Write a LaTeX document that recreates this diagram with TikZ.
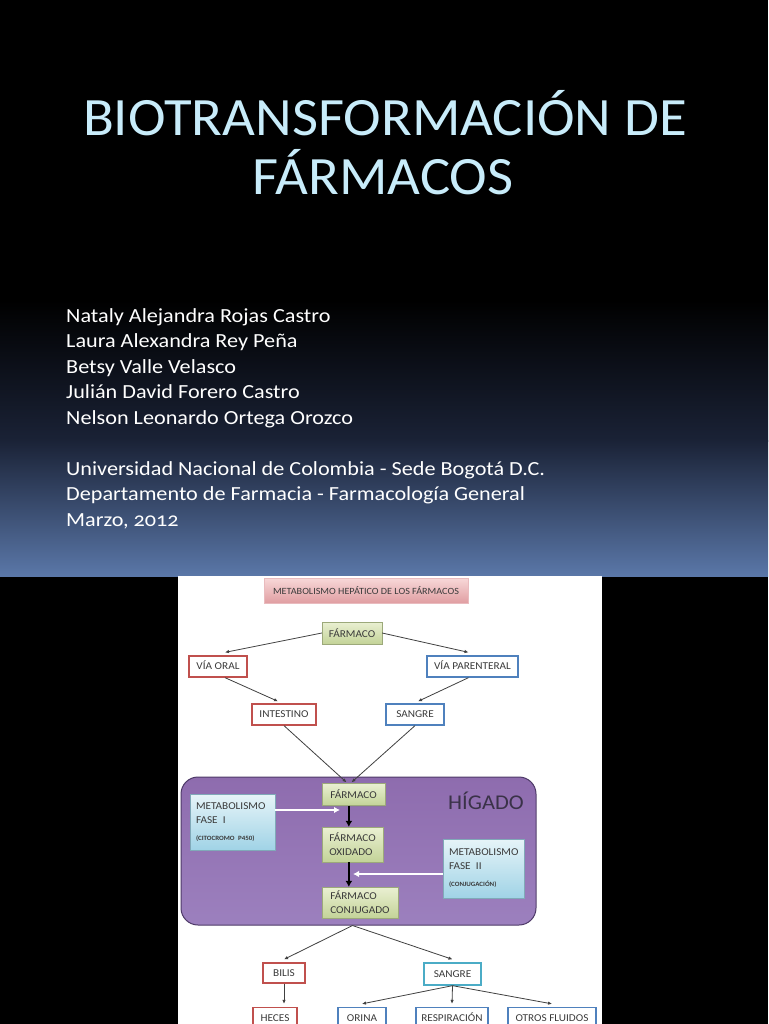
\documentclass[tikz,border=0pt]{standalone}
\usepackage{fontspec}
\setmainfont{Carlito}
\newfontfamily\titlefont[FakeStretch=1.05]{Carlito}
\newfontfamily\slidefont[Numbers=OldStyle,FakeStretch=1.11]{Carlito}
\newfontfamily\dfont[FakeStretch=1.07]{Carlito}
\usetikzlibrary{arrows.meta,shadows}
\definecolor{slmid}{HTML}{1A2236}
\definecolor{slbot}{HTML}{5A77A8}
\definecolor{titlecol}{HTML}{C8ECFA}
\definecolor{dtext}{HTML}{3A3A3A}
\definecolor{boxred}{HTML}{C0504D}
\definecolor{boxblue}{HTML}{4F81BD}
\definecolor{boxteal}{HTML}{4BACC6}
\definecolor{lineg}{HTML}{404040}
\definecolor{grtop}{HTML}{EAF0D2}
\definecolor{grbot}{HTML}{C3D398}
\definecolor{pktop}{HTML}{F8D8D8}
\definecolor{pkbot}{HTML}{E09EA2}
\definecolor{bltop}{HTML}{E6F4F8}
\definecolor{blbot}{HTML}{A0D3E6}
\definecolor{lvtop}{HTML}{8E6CAE}
\definecolor{lvmid}{HTML}{784E9C}
\definecolor{lvbot}{HTML}{9C80BE}
\definecolor{lvedge}{HTML}{4E3A68}
\definecolor{higcol}{HTML}{3A3248}
\begin{document}
\begin{tikzpicture}[x=1pt,y=-1pt,
  titletext/.style={font=\titlefont\fontsize{54}{60}\selectfont, text=titlecol, inner sep=0},
  author/.style={font=\slidefont\fontsize{20}{25}\selectfont, text=white, inner sep=0, anchor=base west},
  box/.style={draw, line width=1.3pt, fill=white, inner sep=0, font=\dfont\fontsize{10.5}{12}\selectfont, text=dtext,
     text height=7pt, text depth=1pt},
  redbox/.style={box, draw=boxred},
  bluebox/.style={box, draw=boxblue},
  tealbox/.style={box, draw=boxteal},
  greenbox/.style={inner sep=0, top color=grtop, bottom color=grbot, draw=grbot!80!black, line width=0.3pt,
     font=\dfont\fontsize{10.5}{14}\selectfont, text=dtext, align=left,
     drop shadow={opacity=0.3, shadow xshift=1pt, shadow yshift=-1pt}},
  fasebox/.style={inner xsep=6pt, inner ysep=0pt, top color=bltop, bottom color=blbot, draw=blbot!80!black, line width=0.3pt,
     font=\dfont\fontsize{10.5}{14}\selectfont, text=dtext, align=left, text width=72pt,
     drop shadow={opacity=0.3, shadow xshift=1pt, shadow yshift=-1pt}},
  conn/.style={draw=lineg, line width=0.8pt, -{Latex[length=4pt,width=3.5pt]}},
  thickarr/.style={draw=black, line width=2.4pt, -{Latex[length=6pt,width=7pt]}},
  whitearr/.style={draw=white, line width=2pt, -{Latex[length=6pt,width=6.5pt]}}
]
\useasboundingbox (0,0) rectangle (768,1024);
% slide background
\fill[black] (0,0) rectangle (768,1024);
\shade[top color=black, bottom color=slmid] (0,300) rectangle (768,441);
\shade[top color=slmid, bottom color=slbot] (0,440) rectangle (768,576);

% title
\node[titletext, anchor=base] (t1) at (385,136) {BIOTRANSFORMACIÓN DE};
\node[titletext, anchor=base] (t2) at (383,195) {FÁRMACOS};

% authors
\node[author] (a1) at (66,322) {Nataly Alejandra Rojas Castro};
\node[author] (a2) at (66,347.5) {Laura Alexandra Rey Peña};
\node[author] (a3) at (66,373) {Betsy Valle Velasco};
\node[author] (a4) at (66,398.5) {Julián David Forero Castro};
\node[author] (a5) at (66,424) {Nelson Leonardo Ortega Orozco};
\node[author] (a6) at (66,475) {Universidad Nacional de Colombia - Sede Bogotá D.C.};
\node[author] (a7) at (66,500.5) {Departamento de Farmacia - Farmacología General};
\node[author] (a8) at (66,526) {Marzo, 2012};

% diagram panel
\fill[white] (178,576) rectangle (602,1024);
\begin{scope}
\clip (178,576) rectangle (602,1024);

\node[inner sep=0, top color=pktop, bottom color=pkbot, draw=pkbot!70!white, line width=0.4pt,
  minimum width=204pt, minimum height=25pt, font=\dfont\fontsize{9.5}{11}\selectfont, text=dtext,
  drop shadow={opacity=0.3, shadow xshift=1pt, shadow yshift=-1pt}] (title) at (366,590.5)
  {METABOLISMO HEPÁTICO DE LOS FÁRMACOS};

\node[greenbox, minimum width=60pt, minimum height=22pt] (farm0) at (352,633) {FÁRMACO};
\node[redbox, minimum width=58pt, minimum height=21pt] (viaoral) at (218,666.5) {VÍA ORAL};
\node[bluebox, minimum width=91pt, minimum height=21pt] (viapar) at (472.5,666.5) {VÍA PARENTERAL};
\node[redbox, minimum width=64pt, minimum height=21pt] (intest) at (284,714.5) {INTESTINO};
\node[bluebox, minimum width=58pt, minimum height=21pt] (sangre1) at (415,714.5) {SANGRE};

% liver
\node[draw=lvedge, line width=1pt, rounded corners=17pt, top color=lvtop, middle color=lvmid, bottom color=lvbot,
  minimum width=355pt, minimum height=148pt, inner sep=0] (liver) at (358.5,851) {};
\node[font=\dfont\fontsize{21}{24}\selectfont, text=higcol, inner sep=0] (higado) at (486,801) {HÍGADO};

\node[greenbox, minimum width=63pt, minimum height=22pt] (farm1) at (353.5,794.5) {FÁRMACO};
\node[greenbox, minimum width=61pt, minimum height=35pt] (oxid) at (352.5,844.5) {FÁRMACO\\OXIDADO};
\node[greenbox, minimum width=76pt, minimum height=31pt] (conj) at (360,902.5) {FÁRMACO\\CONJUGADO};

\node[fasebox, minimum width=85pt, minimum height=56pt, text width=73pt] (fase1) at (232.5,822)
  {METABOLISMO\\FASE\enspace I\\[3pt]{\bfseries\fontsize{6.5}{8}\selectfont (CITOCROMO P450)}};
\node[fasebox, minimum width=81pt, minimum height=59pt, text width=69pt] (fase2) at (483.5,868.5)
  {METABOLISMO\\FASE\enspace II\\[3pt]{\bfseries\fontsize{6.5}{8}\selectfont (CONJUGACIÓN)}};

\coordinate (w1) at (340,810);
\coordinate (w2) at (353,874);

\node[redbox, minimum width=42pt, minimum height=20pt] (bilis) at (284,973) {BILIS};
\node[tealbox, minimum width=57pt, minimum height=22pt] (sangre2) at (452.5,974) {SANGRE};
\node[redbox, minimum width=44pt, minimum height=21pt] (heces) at (275,1018) {HECES};
\node[bluebox, minimum width=48pt, minimum height=21pt] (orina) at (362,1018) {ORINA};
\node[bluebox, minimum width=72pt, minimum height=21pt] (resp) at (452,1018) {RESPIRACIÓN};
\node[bluebox, minimum width=88pt, minimum height=21pt] (otros) at (552,1018) {OTROS FLUIDOS};

% connectors
\draw[conn] (farm0.west) -- ([xshift=7pt,yshift=3pt]viaoral.north);
\draw[conn] (farm0.east) -- ([xshift=-4pt,yshift=3pt]viapar.north);
\draw[conn] ([xshift=7pt]viaoral.south) -- ([xshift=-6pt,yshift=2pt]intest.north);
\draw[conn] ([xshift=-4pt]viapar.south) -- ([xshift=3pt,yshift=2pt]sangre1.north);
\draw[conn] (intest.south) -- ([xshift=-7pt,yshift=1pt]farm1.north);
\draw[conn] (sangre1.south) -- ([xshift=-2pt,yshift=1pt]farm1.north);

\draw[thickarr] ([xshift=27pt]farm1.south west) -- ([xshift=27pt]oxid.north west);
\draw[thickarr] ([xshift=27pt]oxid.south west) -- ([xshift=27pt]conj.north west);
\draw[whitearr] ([yshift=12pt]fase1.east) -- (w1);
\draw[whitearr] ([yshift=-5.5pt]fase2.west) -- (w2);

\coordinate (lb) at ([xshift=-6pt]liver.south);
\draw[conn] (lb) -- ([yshift=3pt]bilis.north);
\draw[conn] (lb) -- ([yshift=3pt]sangre2.north);
\draw[conn] (bilis.south) -- ([yshift=3pt]bilis.south |- heces.north);
\draw[conn] (sangre2.south) -- ([yshift=3pt]orina.north);
\draw[conn] (sangre2.south) -- ([yshift=3pt]resp.north);
\draw[conn] (sangre2.south) -- ([yshift=3pt]otros.north);
\end{scope}
\end{tikzpicture}
\end{document}
